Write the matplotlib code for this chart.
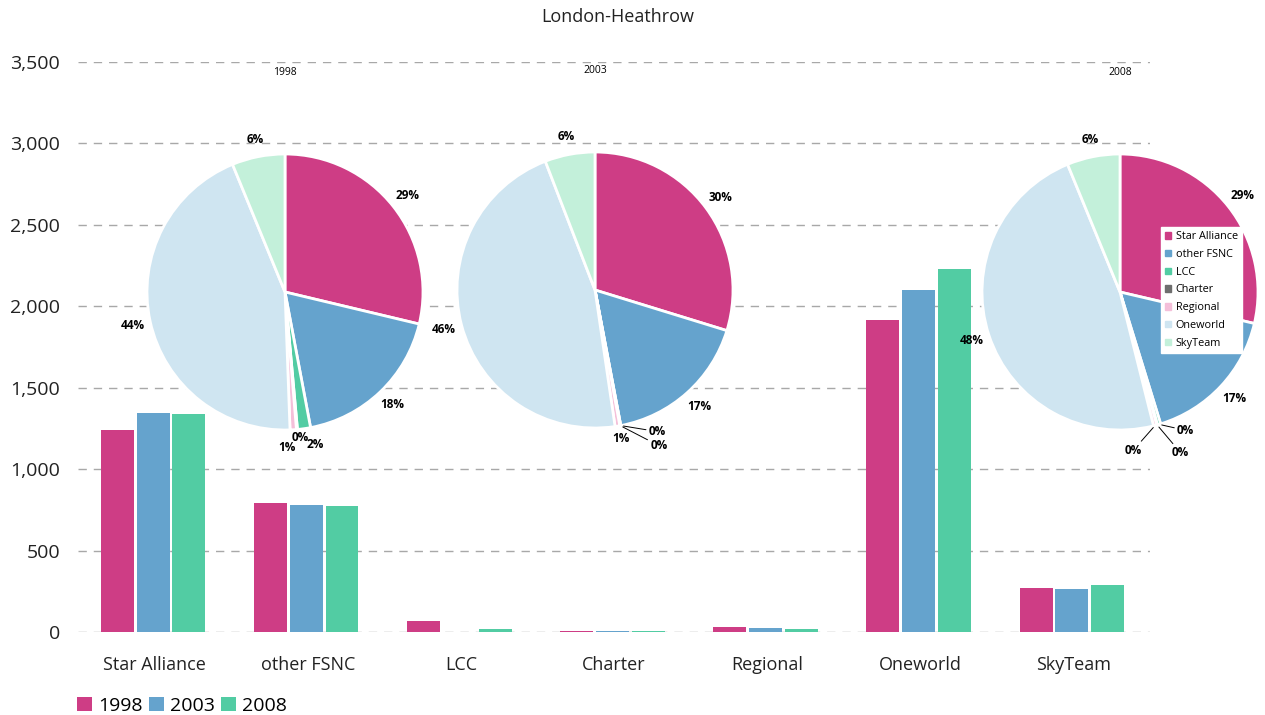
import matplotlib.pyplot as plt
import numpy as np
from matplotlib.patches import Patch

plt.rcParams['font.family'] = ['Open Sans', 'DejaVu Sans']

# --- data ---
categories = ["Star Alliance", "other FSNC", "LCC", "Charter", "Regional", "Oneworld", "SkyTeam"]
years = ["1998", "2003", "2008"]
v1998 = [1240, 790, 66, 5, 32, 1915, 268]
v2003 = [1345, 780, 0, 5, 25, 2100, 265]
v2008 = [1340, 775, 18, 4, 18, 2230, 290]
series = [v1998, v2003, v2008]

bar_colors = ['#CE3D85', '#65A3CD', '#52CCA3']
slice_colors = ['#CE3D85', '#65A3CD', '#52CCA3', '#6E6E6E', '#F4BFD9', '#CFE5F1', '#C3F0DA']

W, H = 1265, 715
fig = plt.figure(figsize=(W / 100, H / 100), dpi=100, facecolor='white')

# --- bar chart ---
ax = fig.add_axes([78 / W, 1 - 632 / H, 1072 / W, 570 / H])
x = np.arange(len(categories))
bw, pitch = 0.215, 0.234
for i, vals in enumerate(series):
    ax.bar(x + (i - 1) * pitch - 0.01, vals, width=bw, color=bar_colors[i], label=years[i], zorder=3)

ax.set_xlim(-0.5, len(categories) - 0.5)
ax.set_ylim(0, 3500)
ax.set_yticks(np.arange(0, 3501, 500))
ax.set_yticklabels([f"{int(t):,}" for t in np.arange(0, 3501, 500)], fontsize=14, color='#222222')
ax.set_xticks(x)
ax.set_xticklabels(categories, fontsize=13, color='#222222')
ax.tick_params(length=0, axis='y', pad=13)
ax.tick_params(length=0, axis='x', pad=17)
for s in ax.spines.values():
    s.set_visible(False)
ax.yaxis.grid(True, color='#a8a8a8', linestyle=(0, (6, 5)), linewidth=1, zorder=0)

fig.text(0.488, 1 - 17 / H, "London-Heathrow", ha='center', va='center', fontsize=13, color='#222222')

fig.legend(loc='lower left', bbox_to_anchor=(0.052, -0.016), ncol=3, frameon=False,
           fontsize=14, handlelength=0.75, handleheight=0.75, columnspacing=0.35,
           handletextpad=0.3, borderaxespad=0.2)

# --- pies ---
centers = [(285, 292), (595, 290), (1120, 292)]
R = 138
lim = 1.45
# manual positions (pixel offsets from the wedge edge) for the tiny slices
small_labels = {
    (0, 2): (11, -16, False, 'center'),
    (0, 3): (3, -8, False, 'center'), (0, 4): (-6, -18, False, 'center'),
    (1, 2): (28, -6, True, 'left'), (1, 3): (30, -20, True, 'left'), (1, 4): (4, -12, False, 'center'),
    (2, 2): (18, -6, True, 'left'), (2, 3): (15, -28, True, 'left'), (2, 4): (-22, -25, True, 'center'),
}

for p, (vals, (cx, cy)) in enumerate(zip(series, centers)):
    w = 2 * lim * R / W
    h = 2 * lim * R / H
    pa = fig.add_axes([cx / W - w / 2, 1 - cy / H - h / 2, w, h])
    wedges, _ = pa.pie(vals, colors=slice_colors, startangle=90, counterclock=False, radius=1,
                       wedgeprops=dict(edgecolor='white', linewidth=2))
    pa.set_xlim(-lim, lim)
    pa.set_ylim(-lim, lim)
    pa.set_aspect('equal')
    pa.axis('off')
    pa.text(0, 1.59, years[p], ha='center', va='center', fontsize=7.5, color='black')

    total = sum(vals)
    for k, wdg in enumerate(wedges):
        pct = f"{round(100 * vals[k] / total)}%"
        ang = np.deg2rad((wdg.theta1 + wdg.theta2) / 2)
        ex, ey = np.cos(ang), np.sin(ang)
        if (p, k) in small_labels:
            dx, dy, leader, ha = small_labels[(p, k)]
            pa.annotate(pct, xy=(ex, ey), xytext=(dx, dy), textcoords='offset pixels',
                        ha=ha, va='center', fontsize=8.5, fontweight='bold',
                        arrowprops=dict(arrowstyle='-', color='black', lw=0.7,
                                        shrinkA=0, shrinkB=2) if leader else None,
                        annotation_clip=False)
        else:
            pa.text(1.13 * ex, 1.13 * ey, pct, ha='center', va='center',
                    fontsize=8.5, fontweight='bold')

    if p == 2:
        handles = [Patch(color=c, label=n) for c, n in zip(slice_colors, categories)]
        leg = fig.legend(handles=handles, loc='upper left', bbox_to_anchor=(1161 / W, 1 - 227 / H),
                         fontsize=7.8, frameon=True, facecolor='white', edgecolor='white',
                         framealpha=1, fancybox=False, handlelength=0.55, handleheight=0.55,
                         handletextpad=0.4, labelspacing=0.62, borderpad=0.4, borderaxespad=0)
        leg.set_zorder(10)

plt.savefig("out.png", dpi=100, facecolor='white')
